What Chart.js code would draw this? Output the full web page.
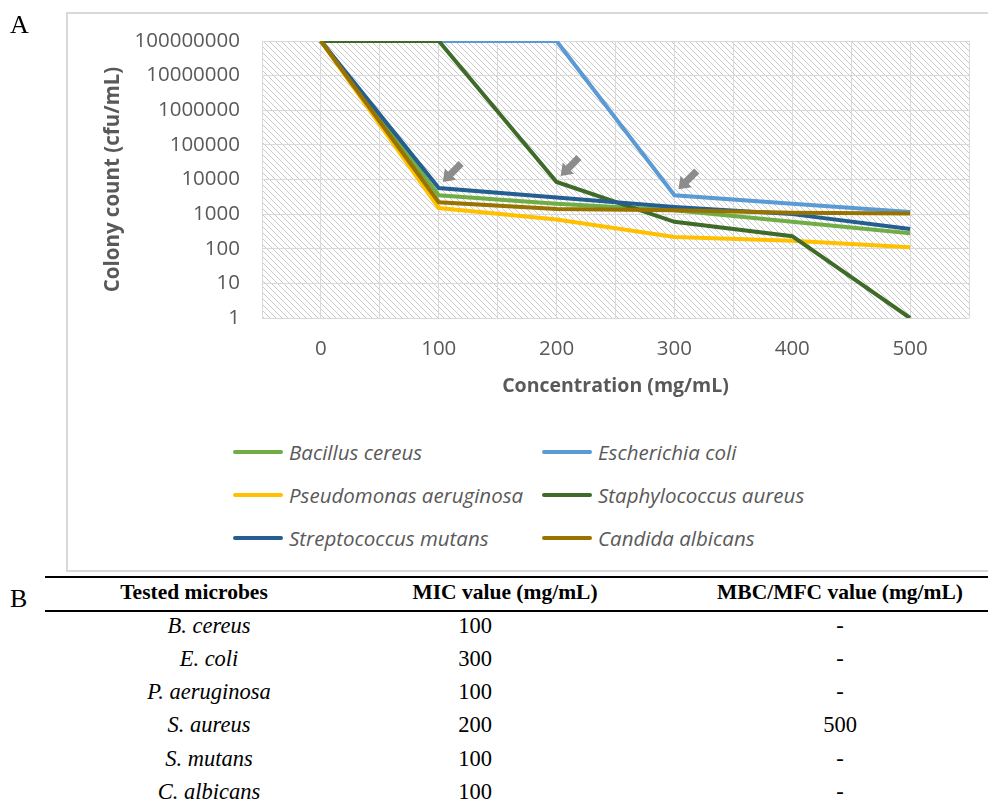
<!DOCTYPE html>
<html>
<head>
<meta charset="utf-8">
<script src="https://cdn.jsdelivr.net/npm/chart.js@4.4.1/dist/chart.umd.min.js"></script>
<style>
  body { margin: 0; background: #fff; width: 988px; height: 807px; position: relative; overflow: hidden; }
  #box { position: absolute; left: 66px; top: 12px; width: 940px; height: 560px; border: 2px solid #d9d9d9; box-sizing: border-box; }
  #chart { position: absolute; left: 0; top: 0; }
  .panel { position: absolute; font-family: "Liberation Serif", serif; font-size: 26px; color: #000; }
  .leg { position: absolute; display: flex; align-items: center; font-family: "Open Sans", sans-serif; font-style: italic; font-size: 20.5px; color: #595959; transform: translateY(-50%); }
  .leg i { display: inline-block; width: 50px; height: 4px; border-radius: 2px; margin-right: 6px; }
  .rule { position: absolute; left: 45px; right: 0; background: #000; }
  .cell { position: absolute; font-family: "Liberation Serif", serif; font-size: 22.5px; color: #000; transform: translate(-50%, -50%); white-space: nowrap; }
  .head { font-weight: bold; font-size: 21.5px; }
  .it { font-style: italic; }
</style>
</head>
<body>
<div id="box"></div>
<canvas id="chart" width="988" height="400"></canvas>
<div class="panel" style="left:10px; top:10px;">A</div>
<div class="panel" style="left:10px; top:584px;">B</div>
<div id="legend"></div>
<div class="rule" style="top:576px; height:2px;"></div>
<div class="rule" style="top:610px; height:1.5px;"></div>
<div id="table"></div>
<script>
const concentrations = [0, 100, 200, 300, 400, 500]
const yTicks = [1, 10, 100, 1000, 10000, 100000, 1000000, 10000000, 100000000]

const seriesNames = ['Bacillus cereus', 'Escherichia coli', 'Pseudomonas aeruginosa', 'Staphylococcus aureus', 'Streptococcus mutans', 'Candida albicans']
const seriesColors = ['#70ad47', '#5b9bd5', '#ffc000', '#3f6b29', '#255e91', '#997300']

const bacillusCereus = [100000000, 3500, 2000, 1300, 600, 280]
const escherichiaColi = [100000000, 100000000, 100000000, 3500, 2000, 1150]
const pseudomonasAeruginosa = [100000000, 1500, 700, 220, 170, 110]
const staphylococcusAureus = [100000000, 100000000, 8500, 600, 230, 1]
const streptococcusMutans = [100000000, 5700, 3000, 1600, 1000, 370]
const candidaAlbicans = [100000000, 2200, 1400, 1300, 1100, 1050]
const seriesValues = [bacillusCereus, escherichiaColi, pseudomonasAeruginosa, staphylococcusAureus, streptococcusMutans, candidaAlbicans]

// arrows mark the MIC point: [series index, concentration index]
const micArrows = [[4, 1], [3, 2], [1, 3]]

const tableMicrobes = ['B. cereus', 'E. coli', 'P. aeruginosa', 'S. aureus', 'S. mutans', 'C. albicans']
const tableMic = ['100', '300', '100', '200', '100', '100']
const tableMbc = ['-', '-', '-', '500', '-', '-']

const hatchPlugin = {
    id: 'hatch',
    beforeDraw(chart) {
        const { ctx, chartArea } = chart
        const tile = document.createElement('canvas')
        tile.width = 6
        tile.height = 6
        const t = tile.getContext('2d')
        t.fillStyle = '#ffffff'
        t.fillRect(0, 0, 6, 6)
        t.strokeStyle = '#cbcbcb'
        t.lineWidth = 1
        t.beginPath()
        t.moveTo(-1, -1); t.lineTo(7, 7)
        t.moveTo(-1, 5); t.lineTo(1, 7)
        t.moveTo(5, -1); t.lineTo(7, 1)
        t.stroke()
        ctx.save()
        ctx.fillStyle = ctx.createPattern(tile, 'repeat')
        ctx.fillRect(chartArea.left, chartArea.top, chartArea.right - chartArea.left, chartArea.bottom - chartArea.top)
        ctx.restore()
    }
}

const arrowPlugin = {
    id: 'micArrows',
    afterDatasetsDraw(chart) {
        const { ctx } = chart
        micArrows.forEach(([ds, idx]) => {
            const pt = chart.getDatasetMeta(ds).data[idx]
            ctx.save()
            ctx.translate(pt.x + 4, pt.y - 6)
            ctx.rotate(-Math.PI / 4)
            ctx.fillStyle = '#8c8c8c'
            ctx.beginPath()
            ctx.moveTo(0, 0)
            ctx.lineTo(11, -8)
            ctx.lineTo(11, -3.5)
            ctx.lineTo(26, -3.5)
            ctx.lineTo(26, 3.5)
            ctx.lineTo(11, 3.5)
            ctx.lineTo(11, 8)
            ctx.closePath()
            ctx.fill()
            ctx.restore()
        })
    }
}

const tickFont = { family: 'Open Sans', size: 20.5 }

new Chart(document.getElementById('chart'), {
    type: 'line',
    data: {
        datasets: seriesNames.map((name, i) => ({
            label: name,
            data: concentrations.map((c, j) => ({ x: c, y: seriesValues[i][j] })),
            borderColor: seriesColors[i],
            backgroundColor: seriesColors[i],
            borderWidth: 4,
            pointRadius: 0,
            tension: 0,
            order: seriesNames.length - i
        }))
    },
    options: {
        responsive: false,
        animation: false,
        layout: { padding: { left: 99, right: 18, top: 41, bottom: 0 } },
        plugins: {
            legend: { display: false },
            tooltip: { enabled: false }
        },
        scales: {
            x: {
                type: 'linear',
                min: -50,
                max: 550,
                afterFit: scale => { scale.height = 82 },
                ticks: {
                    stepSize: 50,
                    autoSkip: false,
                    maxRotation: 0,
                    padding: 19,
                    color: '#595959',
                    font: tickFont,
                    callback: v => concentrations.includes(v) ? String(v) : ''
                },
                grid: { color: '#d9d9d9', lineWidth: 1, drawTicks: false },
                border: { display: false },
                title: { display: true, text: 'Concentration (mg/mL)', color: '#595959', font: { family: 'Open Sans', size: 19.5, weight: 'bold' }, padding: 2 }
            },
            y: {
                type: 'logarithmic',
                min: 1,
                max: 100000000,
                afterBuildTicks: scale => { scale.ticks = yTicks.map(v => ({ value: v })) },
                afterFit: scale => { scale.width = 163 },
                ticks: {
                    padding: 22,
                    color: '#595959',
                    font: tickFont,
                    callback: v => String(v)
                },
                grid: { color: '#d9d9d9', lineWidth: 1, drawTicks: false },
                border: { display: false },
                title: { display: true, text: 'Colony count (cfu/mL)', color: '#595959', font: { family: 'Open Sans', size: 20.5, weight: 'bold' }, padding: 2 }
            }
        }
    },
    plugins: [hatchPlugin, arrowPlugin]
})

// legend in two columns, as in the original figure
const legendCols = [233, 542]
const legendRows = [452, 495, 538]
const legend = document.getElementById('legend')
seriesNames.forEach((name, i) => {
    const el = document.createElement('div')
    el.className = 'leg'
    el.style.left = legendCols[i % 2] + 'px'
    el.style.top = legendRows[Math.floor(i / 2)] + 'px'
    el.innerHTML = `<i style="background:${seriesColors[i]}"></i>${name}`
    legend.appendChild(el)
})

// table B
const table = document.getElementById('table')
function addCell(text, x, y, cls) {
    const el = document.createElement('div')
    el.className = 'cell ' + cls
    el.style.left = x + 'px'
    el.style.top = y + 'px'
    el.textContent = text
    table.appendChild(el)
}
addCell('Tested microbes', 194, 592, 'head')
addCell('MIC value (mg/mL)', 505, 592, 'head')
addCell('MBC/MFC value (mg/mL)', 840, 592, 'head')
const rowY = [626, 659, 692, 725, 759, 792]
tableMicrobes.forEach((m, i) => {
    addCell(m, 209, rowY[i], 'it')
    addCell(tableMic[i], 475, rowY[i], '')
    addCell(tableMbc[i], 840, rowY[i], '')
})
</script>
</body>
</html>
